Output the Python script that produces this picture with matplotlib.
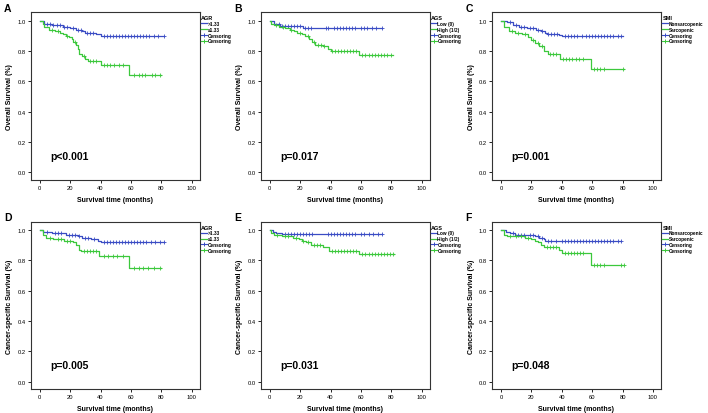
import numpy as np
import matplotlib.pyplot as plt
from matplotlib.lines import Line2D

plt.rcParams['font.family'] = ['Liberation Sans', 'DejaVu Sans']

BLUE = "#3a4cc4"
GREEN = "#3cc83c"

# --- data: step times, survival after each step, last follow-up, censor times ---
a_hi_t = [3, 8, 15, 20, 24, 28, 30, 37, 40]
a_hi_s = [0.98, 0.97, 0.96, 0.95, 0.94, 0.93, 0.92, 0.91, 0.90]
a_hi_end = 82
a_hi_cens = [5, 7, 9, 11, 13, 16, 18, 22, 25, 27, 31, 33, 35, 42, 44, 46, 48, 50, 52,
             54, 56, 58, 60, 62, 64, 66, 68, 70, 72, 75, 78, 82]
a_lo_t = [2, 3, 6, 10, 13, 15, 17, 19, 21, 22, 24, 25, 26, 28, 30, 32, 40, 59]
a_lo_s = [0.98, 0.96, 0.94, 0.93, 0.92, 0.91, 0.90, 0.89, 0.88, 0.86, 0.84, 0.81, 0.78,
          0.77, 0.75, 0.735, 0.705, 0.64]
a_lo_end = 80
a_lo_cens = [8, 12, 18, 23, 29, 33, 35, 37, 42, 44, 46, 49, 52, 55, 62, 65, 67, 69, 74, 76, 79]

b_lo_t = [3, 7, 22]
b_lo_s = [0.98, 0.965, 0.95]
b_lo_end = 74
b_lo_cens = [6, 8, 10, 12, 14, 16, 18, 20, 23, 25, 27, 37, 38, 42, 44, 46, 48, 50, 52,
             54, 56, 60, 62, 64, 67, 70, 74]
b_hi_t = [1, 3, 6, 10, 13, 16, 18, 21, 23, 26, 28, 30, 35, 38, 40, 59]
b_hi_s = [0.98, 0.97, 0.96, 0.95, 0.94, 0.93, 0.92, 0.91, 0.90, 0.88, 0.86, 0.84, 0.83,
          0.81, 0.80, 0.775]
b_hi_end = 81
b_hi_cens = [4, 9, 14, 20, 25, 29, 32, 34, 36, 41, 43, 45, 47, 49, 51, 53, 55, 57, 61,
             63, 65, 67, 69, 71, 73, 75, 77, 80]

c_non_t = [4, 8, 12, 17, 23, 26, 29, 30, 38, 40]
c_non_s = [0.99, 0.97, 0.96, 0.95, 0.94, 0.93, 0.92, 0.91, 0.905, 0.90]
c_non_end = 80
c_non_cens = [6, 10, 13, 15, 19, 21, 24, 27, 31, 33, 35, 37, 42, 44, 46, 48, 50, 53, 56,
              58, 60, 62, 64, 66, 68, 70, 72, 74, 77, 79]
c_sar_t = [2, 5, 9, 14, 18, 20, 22, 25, 28, 31, 39, 59]
c_sar_s = [0.96, 0.93, 0.92, 0.91, 0.89, 0.87, 0.85, 0.83, 0.80, 0.78, 0.745, 0.68]
c_sar_end = 81
c_sar_cens = [7, 11, 16, 21, 24, 27, 32, 34, 36, 41, 43, 45, 47, 49, 51, 54, 61, 63, 65, 68, 80]

d_hi_t = [2, 8, 17, 25, 28, 34, 38, 40]
d_hi_s = [0.99, 0.98, 0.97, 0.96, 0.95, 0.94, 0.93, 0.92]
d_hi_end = 82
d_hi_cens = [5, 10, 12, 14, 19, 21, 23, 26, 30, 32, 36, 42, 44, 46, 48, 50, 52, 54, 56,
             58, 60, 62, 64, 66, 68, 70, 73, 76, 79, 82]
d_lo_t = [2, 4, 9, 16, 22, 24, 26, 27, 39, 59]
d_lo_s = [0.97, 0.95, 0.94, 0.93, 0.92, 0.90, 0.87, 0.86, 0.83, 0.75]
d_lo_end = 80
d_lo_cens = [7, 12, 14, 18, 20, 29, 31, 33, 35, 37, 42, 45, 48, 51, 55, 62, 65, 68, 71, 75, 79]

e_lo_t = [2, 4, 8]
e_lo_s = [0.99, 0.98, 0.975]
e_lo_end = 74
e_lo_cens = [10, 12, 14, 16, 18, 20, 22, 24, 26, 28, 38, 40, 42, 44, 46, 48, 50, 52, 54,
             56, 60, 62, 65, 68, 71, 74]
e_hi_t = [1, 3, 8, 15, 19, 21, 24, 27, 35, 39, 59]
e_hi_s = [0.98, 0.97, 0.96, 0.95, 0.94, 0.93, 0.92, 0.90, 0.89, 0.865, 0.84]
e_hi_end = 82
e_hi_cens = [5, 10, 12, 17, 22, 25, 29, 31, 33, 41, 43, 45, 47, 49, 51, 53, 55, 57, 61,
             63, 65, 67, 69, 71, 73, 75, 77, 79, 81]

f_non_t = [3, 6, 9, 17, 22, 25, 28, 29, 38]
f_non_s = [0.99, 0.98, 0.97, 0.965, 0.96, 0.95, 0.94, 0.93, 0.925]
f_non_end = 79
f_non_cens = [8, 11, 13, 15, 19, 21, 24, 27, 31, 33, 36, 40, 42, 44, 46, 48, 50, 52, 54,
              56, 58, 60, 62, 64, 66, 68, 70, 72, 74, 77, 79]
f_sar_t = [2, 4, 16, 20, 22, 24, 26, 28, 38, 40, 59]
f_sar_s = [0.97, 0.96, 0.95, 0.94, 0.93, 0.92, 0.90, 0.885, 0.87, 0.85, 0.77]
f_sar_end = 81
f_sar_cens = [6, 10, 13, 18, 30, 32, 34, 36, 42, 44, 46, 48, 50, 52, 54, 61, 63, 65, 68, 79, 81]

panels = [
    ("A", "Overall Survival (%)", "AGR", [">1.33", "\u22641.33"], "p<0.001",
     [(a_hi_t, a_hi_s, a_hi_end, a_hi_cens), (a_lo_t, a_lo_s, a_lo_end, a_lo_cens)]),
    ("B", "Overall Survival (%)", "AGS", ["Low (0)", "High (1/2)"], "p=0.017",
     [(b_lo_t, b_lo_s, b_lo_end, b_lo_cens), (b_hi_t, b_hi_s, b_hi_end, b_hi_cens)]),
    ("C", "Overall Survival (%)", "SMI", ["Nonsarcopenic", "Sarcopenic"], "p=0.001",
     [(c_non_t, c_non_s, c_non_end, c_non_cens), (c_sar_t, c_sar_s, c_sar_end, c_sar_cens)]),
    ("D", "Cancer-specific Survival (%)", "AGR", [">1.33", "\u22641.33"], "p=0.005",
     [(d_hi_t, d_hi_s, d_hi_end, d_hi_cens), (d_lo_t, d_lo_s, d_lo_end, d_lo_cens)]),
    ("E", "Cancer-specific Survival (%)", "AGS", ["Low (0)", "High (1/2)"], "p=0.031",
     [(e_lo_t, e_lo_s, e_lo_end, e_lo_cens), (e_hi_t, e_hi_s, e_hi_end, e_hi_cens)]),
    ("F", "Cancer-specific Survival (%)", "SMI", ["Nonsarcopenic", "Sarcopenic"], "p=0.048",
     [(f_non_t, f_non_s, f_non_end, f_non_cens), (f_sar_t, f_sar_s, f_sar_end, f_sar_cens)]),
]

W, H = 708, 414
col_left = [30.7, 260.7, 492]
row_top = [13.3, 222.7]
ax_w, ax_h = 169, 167.5


def surv_at(times, surv, t):
    idx = np.searchsorted(times, t, side="right")
    return 1.0 if idx == 0 else surv[idx - 1]


def draw_curve(ax, times, surv, end, cens, color):
    x = [0] + list(times) + [end]
    y = [1.0] + list(surv) + [surv[-1]]
    ax.step(x, y, where="post", color=color, lw=0.9)
    cy = [surv_at(times, surv, t) for t in cens]
    ax.plot(cens, cy, ls="none", marker="+", ms=3.2, mew=0.6, color=color)


fig = plt.figure(figsize=(W / 100, H / 100), dpi=100)

for i, (letter, ylabel, title, groups, ptext, curves) in enumerate(panels):
    r, c = divmod(i, 3)
    left = col_left[c]
    top = row_top[r]
    ax = fig.add_axes([left / W, (H - top - ax_h) / H, ax_w / W, ax_h / H])
    for (t, s, e, cz), color in zip(curves, [BLUE, GREEN]):
        draw_curve(ax, t, s, e, cz, color)

    ax.set_xlim(-6, 105.3)
    ax.set_ylim(-0.049, 1.055)
    ax.set_xticks([0, 20, 40, 60, 80, 100])
    ax.set_yticks([0.0, 0.2, 0.4, 0.6, 0.8, 1.0])
    ax.set_yticklabels(["0.0", "0.2", "0.4", "0.6", "0.8", "1.0"])
    ax.tick_params(labelsize=4.2, length=2, width=0.6, pad=1.5)
    for sp in ax.spines.values():
        sp.set_linewidth(0.8)
        sp.set_color("#333333")
    ax.set_xlabel("Survival time (months)", fontsize=5, fontweight="bold", labelpad=4.5)
    ax.set_ylabel(ylabel, fontsize=5, fontweight="bold", labelpad=3)
    ax.text(7, 0.11, ptext, fontsize=7.5, fontweight="bold", va="center")

    handles = [
        Line2D([], [], color=BLUE, lw=0.9),
        Line2D([], [], color=GREEN, lw=0.9),
        Line2D([], [], color=BLUE, lw=0.8, marker="+", ms=3.5, mew=0.7),
        Line2D([], [], color=GREEN, lw=0.8, marker="+", ms=3.5, mew=0.7),
    ]
    labels = groups + ["Censoring", "Censoring"]
    leg = ax.legend(handles, labels, title=title, loc="upper left",
                    bbox_to_anchor=(1.0, 0.99), frameon=False,
                    prop={"size": 3.4, "weight": "bold"},
                    title_fontsize=4.0, handlelength=1.2, handletextpad=0.15,
                    labelspacing=0.15, borderaxespad=0.1, borderpad=0.2,
                    alignment="left")
    leg.get_title().set_fontweight("bold")

    fig.text((left - 26.5) / W, 1 - (top - 9.3) / H, letter, fontsize=7.5,
             fontweight="bold", va="top", ha="left")

fig.savefig("out.png", dpi=100)
